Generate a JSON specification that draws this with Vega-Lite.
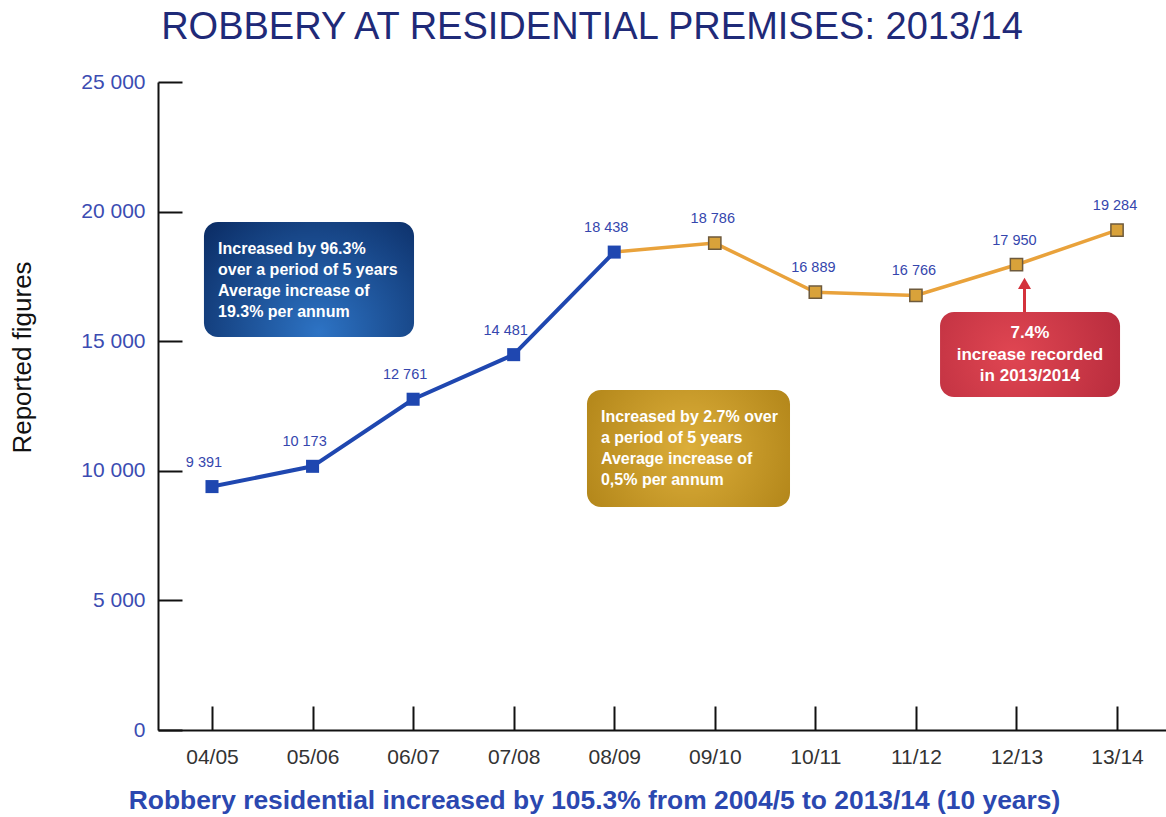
{
  "$schema": "https://vega.github.io/schema/vega-lite/v6.json",
  "width": 1008,
  "height": 648,
  "autosize": "none",
  "padding": {"left": 158, "top": 82, "right": 0, "bottom": 87},
  "background": "white",
  "config": {
    "view": {"stroke": null},
    "font": "Liberation Sans",
    "locale": {"number": {"decimal": ".", "thousands": " ", "grouping": [3], "currency": ["", ""]}}
  },
  "title": {
    "text": "ROBBERY AT RESIDENTIAL PREMISES: 2013/14",
    "font": "Liberation Sans",
    "fontSize": 38,
    "fontWeight": "normal",
    "color": "#1f2a78",
    "anchor": "middle",
    "frame": "group",
    "dx": -70,
    "offset": -6,
    "baseline": "alphabetic"
  },
  "datasets": {
    "robbery": [
      {"i": 0, "season": "04/05", "value": 9391},
      {"i": 1, "season": "05/06", "value": 10173},
      {"i": 2, "season": "06/07", "value": 12761},
      {"i": 3, "season": "07/08", "value": 14481},
      {"i": 4, "season": "08/09", "value": 18438},
      {"i": 5, "season": "09/10", "value": 18786},
      {"i": 6, "season": "10/11", "value": 16889},
      {"i": 7, "season": "11/12", "value": 16766},
      {"i": 8, "season": "12/13", "value": 17950},
      {"i": 9, "season": "13/14", "value": 19284}
    ]
  },
  "data": {"name": "robbery"},
  "encoding": {
    "x": {
      "field": "i",
      "type": "quantitative",
      "scale": {"domain": [-0.537, 9.487], "nice": false, "zero": false},
      "axis": {
        "values": [0, 1, 2, 3, 4, 5, 6, 7, 8, 9],
        "labelExpr": "['04/05','05/06','06/07','07/08','08/09','09/10','10/11','11/12','12/13','13/14'][datum.value]",
        "labelFlush": false,
        "labelFont": "Liberation Sans",
        "labelFontSize": 21,
        "labelColor": "#333333",
        "labelPadding": 40,
        "tickSize": -24,
        "tickWidth": 2,
        "tickColor": "#111111",
        "domainColor": "#111111",
        "domainWidth": 2,
        "grid": false,
        "title": "Robbery residential increased by 105.3% from 2004/5 to 2013/14 (10 years)",
        "titleFont": "Liberation Sans",
        "titleFontSize": 26.4,
        "titleFontWeight": "bold",
        "titleColor": "#2b48b0",
        "titleX": 436,
        "titleY": 70,
        "titleAlign": "center",
        "titleBaseline": "middle"
      }
    },
    "y": {
      "field": "value",
      "type": "quantitative",
      "scale": {"domain": [0, 25000], "nice": false},
      "axis": {
        "values": [0, 5000, 10000, 15000, 20000, 25000],
        "labelExpr": "replace(format(datum.value, ','), ',', ' ')",
        "labelFont": "Liberation Sans",
        "labelFontSize": 21,
        "labelColor": "#3b4cb2",
        "labelPadding": 37,
        "tickSize": -24,
        "tickWidth": 2,
        "tickColor": "#111111",
        "domainColor": "#111111",
        "domainWidth": 2,
        "grid": false,
        "title": "Reported figures",
        "titleFont": "Liberation Sans",
        "titleFontSize": 26,
        "titleFontWeight": "normal",
        "titleColor": "#111111",
        "titleAngle": -90,
        "titleX": -136,
        "titleY": 275,
        "titleAlign": "center",
        "titleBaseline": "middle"
      }
    }
  },
  "layer": [
    {
      "data": {"values": [{"i": -0.08, "i2": 2.009, "value": 15162, "value2": 19599}]},
      "mark": {
        "type": "rect",
        "cornerRadius": 14,
        "fill": {"gradient": "radial", "x1": 0.55, "y1": 0.75, "r1": 0, "x2": 0.55, "y2": 0.75, "r2": 0.75,
          "stops": [{"offset": 0, "color": "#2d73c4"}, {"offset": 1, "color": "#0b2c64"}]}
      },
      "encoding": {"x2": {"field": "i2"}, "y2": {"field": "value2"}}
    },
    {
      "data": {"values": [{"i": 3.729, "i2": 5.748, "value": 8603, "value2": 13117}]},
      "mark": {
        "type": "rect",
        "cornerRadius": 14,
        "fill": {"gradient": "radial", "x1": 0.5, "y1": 0.5, "r1": 0, "x2": 0.5, "y2": 0.5, "r2": 0.75,
          "stops": [{"offset": 0, "color": "#dcae3a"}, {"offset": 1, "color": "#a67a10"}]}
      },
      "encoding": {"x2": {"field": "i2"}, "y2": {"field": "value2"}}
    },
    {
      "data": {"values": [{"i": 7.24, "i2": 9.03, "value": 12847, "value2": 16127}]},
      "mark": {
        "type": "rect",
        "cornerRadius": 14,
        "fill": {"gradient": "radial", "x1": 0.4, "y1": 0.5, "r1": 0, "x2": 0.4, "y2": 0.5, "r2": 0.75,
          "stops": [{"offset": 0, "color": "#e04652"}, {"offset": 1, "color": "#b2283a"}]}
      },
      "encoding": {"x2": {"field": "i2"}, "y2": {"field": "value2"}}
    },
    {
      "data": {"values": [
        {"i": 0.06, "value": 18885, "note": "Increased by 96.3%\nover a period of 5 years\nAverage increase of\n19.3% per annum"},
        {"i": 3.868, "value": 12365, "note": "Increased by 2.7% over\na period of 5 years\nAverage increase of\n0,5% per annum"}
      ]},
      "mark": {"type": "text", "align": "left", "baseline": "top", "lineBreak": "\n", "lineHeight": 21, "fontSize": 16, "fontWeight": "bold", "color": "#ffffff", "font": "Liberation Sans"},
      "encoding": {"text": {"field": "note"}}
    },
    {
      "data": {"values": [{"i": 8.134, "value": 15606, "note": "7.4%\nincrease recorded\nin 2013/2014"}]},
      "mark": {"type": "text", "align": "center", "baseline": "top", "lineBreak": "\n", "lineHeight": 21.5, "fontSize": 17, "fontWeight": "bold", "color": "#ffffff", "font": "Liberation Sans"},
      "encoding": {"text": {"field": "note"}}
    },
    {
      "transform": [{"filter": "datum.i <= 4"}],
      "mark": {"type": "line", "color": "#1f47b0", "strokeWidth": 4}
    },
    {
      "transform": [{"filter": "datum.i >= 4"}],
      "mark": {"type": "line", "color": "#e9a23b", "strokeWidth": 3.5}
    },
    {
      "data": {"values": [{"i": 8.08, "value": 16127, "value2": 17050}]},
      "mark": {"type": "rule", "color": "#d4323c", "strokeWidth": 3},
      "encoding": {"y2": {"field": "value2"}}
    },
    {
      "data": {"values": [{"i": 8.08, "value": 17230}]},
      "mark": {"type": "point", "shape": "triangle-up", "filled": true, "size": 170, "color": "#d4323c", "opacity": 1}
    },
    {
      "transform": [{"filter": "datum.i <= 4"}],
      "mark": {"type": "point", "shape": "square", "filled": true, "size": 170, "color": "#1f47b0", "opacity": 1}
    },
    {
      "transform": [{"filter": "datum.i >= 5"}],
      "mark": {"type": "point", "shape": "square", "filled": true, "size": 150, "fill": "#d9a23a", "stroke": "#6e5a3c", "strokeWidth": 1.5, "opacity": 1}
    },
    {
      "transform": [{"filter": "datum.i <= 4"}],
      "mark": {"type": "text", "dx": -8, "dy": -24, "fontSize": 14.5, "color": "#3546ad", "font": "Liberation Sans"},
      "encoding": {"text": {"field": "value", "type": "quantitative", "format": ","}}
    },
    {
      "transform": [{"filter": "datum.i >= 5"}],
      "mark": {"type": "text", "dx": -2, "dy": -24, "fontSize": 14.5, "color": "#3546ad", "font": "Liberation Sans"},
      "encoding": {"text": {"field": "value", "type": "quantitative", "format": ","}}
    }
  ]
}
